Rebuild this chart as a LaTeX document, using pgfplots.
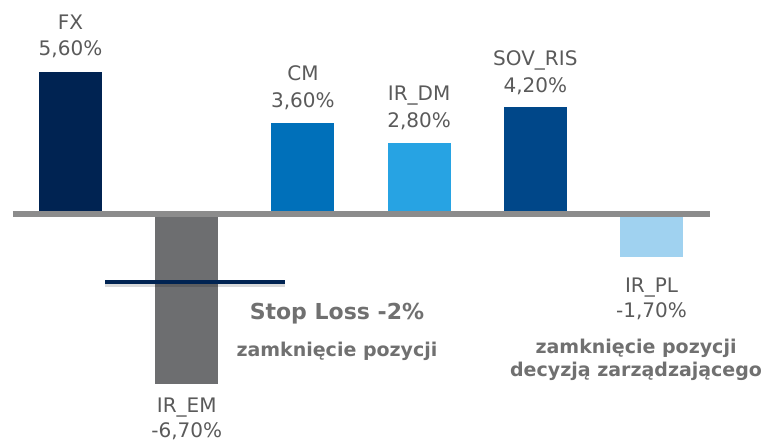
\documentclass[border=0pt]{standalone}
\usepackage{pgfplots}
\pgfplotsset{compat=1.18}
\usepackage{fontspec}
\setmainfont{DejaVu Sans}
\definecolor{cFX}{HTML}{002352}
\definecolor{cEM}{HTML}{6D6E70}
\definecolor{cCM}{HTML}{0070BA}
\definecolor{cDM}{HTML}{27A3E3}
\definecolor{cSOV}{HTML}{004789}
\definecolor{cPL}{HTML}{A0D2F0}
\definecolor{cBase}{HTML}{8C8C8C}
\definecolor{cTxt}{HTML}{5A5A5A}
\definecolor{cBold}{HTML}{707070}
\begin{document}
\begin{tikzpicture}
\begin{axis}[
  width=763pt, height=443pt, scale only axis,
  xmin=-0.6067, xmax=5.9595, ymin=-9.0157, ymax=8.425,
  hide axis, clip=false,
]
\path (rel axis cs:0,0) rectangle (rel axis cs:1,1);
\addplot[ybar, bar width=0.542, bar shift=0pt, fill=cFX, draw=none] coordinates {(0,5.6)};
\addplot[ybar, bar width=0.542, bar shift=0pt, fill=cEM, draw=none] coordinates {(1,-6.7)};
\addplot[ybar, bar width=0.542, bar shift=0pt, fill=cCM, draw=none] coordinates {(2,3.6)};
\addplot[ybar, bar width=0.542, bar shift=0pt, fill=cDM, draw=none] coordinates {(3,2.8)};
\addplot[ybar, bar width=0.542, bar shift=0pt, fill=cSOV, draw=none] coordinates {(4,4.2)};
\addplot[ybar, bar width=0.542, bar shift=0pt, fill=cPL, draw=none] coordinates {(5,-1.7)};
% baseline
\addplot[draw=cBase, line width=5.5pt, mark=none] coordinates {(-0.495,0) (5.503,0)};
% stop loss line with soft shadow
\addplot[draw=black, opacity=0.15, line width=6pt, mark=none] coordinates {(0.30,-2.74) (1.85,-2.74)};
\addplot[draw=cFX, line width=4pt, mark=none] coordinates {(0.297,-2.68) (1.845,-2.68)};
% labels
\begin{scope}[every node/.style={anchor=base, inner sep=0pt, font=\fontsize{20}{24}\selectfont, text=cTxt}]
\node at (axis cs:0,7.28) {FX};
\node at (axis cs:0,6.22) {5,60\%};
\node at (axis cs:2,5.26) {CM};
\node at (axis cs:2,4.20) {3,60\%};
\node at (axis cs:3,4.46) {IR\_DM};
\node at (axis cs:3,3.40) {2,80\%};
\node at (axis cs:4,5.86) {SOV\_RIS};
\node at (axis cs:4,4.80) {4,20\%};
\node at (axis cs:1,-7.83) {IR\_EM};
\node at (axis cs:1,-8.80) {-6,70\%};
\node at (axis cs:5,-3.11) {IR\_PL};
\node at (axis cs:5,-4.06) {-1,70\%};
\end{scope}
\begin{scope}[every node/.style={anchor=base, inner sep=0pt, text=cBold}]
\node[font=\fontsize{22}{26}\selectfont\bfseries] at (axis cs:2.293,-4.17) {Stop Loss -2\%};
\node[font=\fontsize{19}{22}\selectfont\bfseries] at (axis cs:2.293,-5.63) {zamknięcie pozycji};
\node[font=\fontsize{19}{22}\selectfont\bfseries] at (axis cs:4.867,-5.51) {zamknięcie pozycji};
\node[font=\fontsize{19}{22}\selectfont\bfseries] at (axis cs:4.867,-6.38) {decyzją zarządzającego};
\end{scope}
\end{axis}
\end{tikzpicture}
\end{document}
